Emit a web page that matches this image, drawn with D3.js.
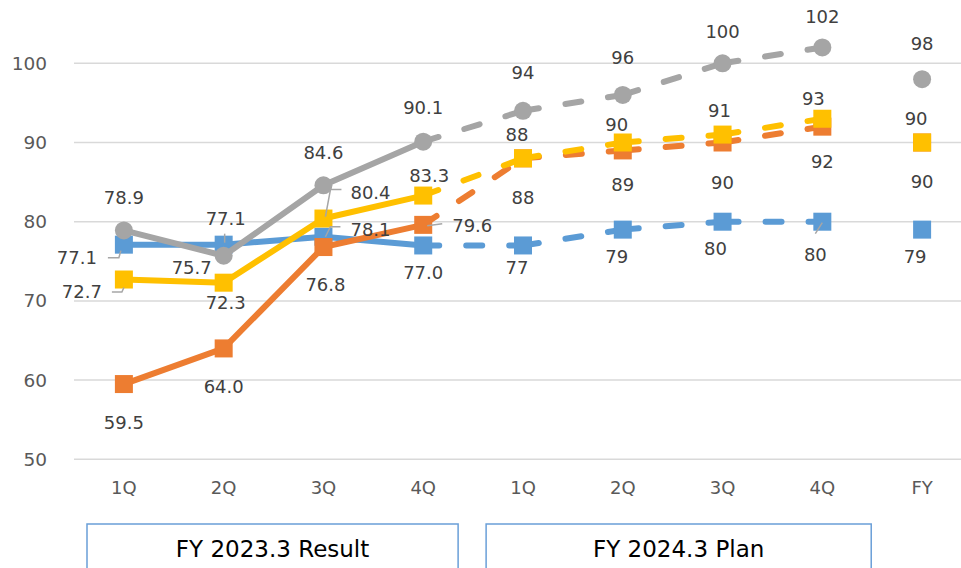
<!DOCTYPE html>
<html>
<head>
<meta charset="utf-8">
<script src="https://cdn.jsdelivr.net/npm/d3@7"></script>
<style>
  html, body { margin: 0; padding: 0; background: #fff; }
  svg { display: block; font-family: "DejaVu Sans", "Noto Sans", sans-serif; }
</style>
</head>
<body>
<svg id="chart" width="961" height="568"></svg>
<script>
// Quarter categories: four result quarters, four plan quarters, full year
const categories = ["1Q", "2Q", "3Q", "4Q", "1Q", "2Q", "3Q", "4Q", "FY"];

// Series values, one per category
const blueValues   = [77.1, 77.1, 78.1, 77.0, 77, 79, 80, 80, 79];
const orangeValues = [59.5, 64.0, 76.8, 79.6, 88, 89, 90, 92, 90];
const grayValues   = [78.9, 75.7, 84.6, 90.1, 94, 96, 100, 102, 98];
const yellowValues = [72.7, 72.3, 80.4, 83.3, 88, 90, 91, 93, 90];

const yTicks = [50, 60, 70, 80, 90, 100];

// Period groups shown as boxes under the axis
const periodNames = ["FY 2023.3 Result", "FY 2024.3 Plan"];
const periodStart = [0, 4];
const periodEnd   = [3, 7];

// Index of the last actual quarter; after it lines are dashed, FY is a lone marker
const lastResult = 3;
const lastPlan = 7;

// Label placement relative to each marker: [dx, dy, anchor, leader points]
const labelPlacement = {
  blue: [
    [-27, 13, "end", [[-16, 13], [-5, 13], [-3, 6]]],
    [2, -26, "middle", [[1, -11], [1, -2]]],
    [27, -7, "start", [[17, -10], [7, -10], [2, 0]]],
    [0, 27, "middle"],
    [-6, 22, "middle"],
    [-6, 27, "middle"],
    [-7, 27, "middle"],
    [-7, 33, "middle", [[-7, 12], [0, 1]]],
    [-7, 27, "middle"]
  ],
  orange: [
    [0, 39, "middle"],
    [0, 38, "middle"],
    [2, 38, "middle"],
    [29, 1, "start", [[19, -1], [4, 1]]],
    [0, 39, "middle"],
    [0, 34, "middle"],
    [0, 40, "middle"],
    [0, 35, "middle"],
    [0, 39, "middle"]
  ],
  gray: [
    [0, -33, "middle"],
    [-32, 12, "middle"],
    [0, -33, "middle"],
    [0, -34, "middle"],
    [0, -38, "middle"],
    [0, -37, "middle"],
    [0, -32, "middle"],
    [0, -31, "middle"],
    [0, -35, "middle"]
  ],
  yellow: [
    [-22, 12.5, "end", [[-12, 12.5], [-2, 12.5], [0, 8]]],
    [2, 20, "middle"],
    [27, -26, "start", [[18, -29], [7, -29], [2, -2]]],
    [6, -20, "middle"],
    [-6, -24, "middle"],
    [-6, -18, "middle"],
    [-3, -24, "middle"],
    [-9, -20, "middle"],
    [-6, -24, "middle"]
  ]
};

// Drawing order: later series sit on top
const series = [
  { key: "blue",   values: blueValues,   color: "#5B9BD5", marker: "square" },
  { key: "orange", values: orangeValues, color: "#ED7D31", marker: "square" },
  { key: "gray",   values: grayValues,   color: "#A5A5A5", marker: "circle" },
  { key: "yellow", values: yellowValues, color: "#FFC000", marker: "square" }
];

const svg = d3.select("#chart");
const width = 961;

const x = d3.scaleBand()
  .domain(d3.range(categories.length))
  .range([74, 972])
  .padding(0);
const cx = i => x(i) + x.bandwidth() / 2;

const y = d3.scaleLinear()
  .domain([50, 100])
  .range([459.3, 63.3]);

// Horizontal gridlines
svg.append("g")
  .selectAll("line")
  .data(yTicks)
  .join("line")
  .attr("x1", 74)
  .attr("x2", width)
  .attr("y1", d => y(d))
  .attr("y2", d => y(d))
  .attr("stroke", "#D9D9D9")
  .attr("stroke-width", 1.5);

// Y axis labels
const yAxis = d3.axisLeft(y).tickValues(yTicks).tickSize(0).tickPadding(0);
const yg = svg.append("g")
  .attr("transform", "translate(47,0)")
  .call(yAxis);
yg.select(".domain").remove();
yg.selectAll("text")
  .attr("fill", "#595959")
  .attr("font-size", 18.5)
  .attr("font-family", "'DejaVu Sans', sans-serif");

// X axis labels
const xAxis = d3.axisBottom(x).tickFormat(i => categories[i]).tickSize(0).tickPadding(0);
const xg = svg.append("g")
  .attr("transform", "translate(0,481)")
  .call(xAxis);
xg.select(".domain").remove();
xg.selectAll("text")
  .attr("fill", "#595959")
  .attr("font-size", 18)
  .attr("font-family", "'DejaVu Sans', sans-serif");

// Period boxes
const boxes = svg.append("g");
periodNames.forEach((name, k) => {
  const left = x(periodStart[k]) + 13;
  const right = x(periodEnd[k]) + x.bandwidth() - (k === 0 ? 15 : 1);
  boxes.append("rect")
    .attr("x", left)
    .attr("y", 524)
    .attr("width", right - left)
    .attr("height", 60)
    .attr("fill", "none")
    .attr("stroke", "#6A9FD8")
    .attr("stroke-width", 1.5);
  boxes.append("text")
    .attr("x", (left + right) / 2)
    .attr("y", 549)
    .attr("dy", "0.35em")
    .attr("text-anchor", "middle")
    .attr("fill", "#000")
    .attr("font-size", 23)
    .text(name);
});

const line = d3.line().x(d => cx(d.i)).y(d => y(d.v));
const marks = svg.append("g");

series.forEach(s => {
  const pts = s.values.map((v, i) => ({ i, v }));
  const g = marks.append("g");
  // Solid line through the result quarters
  g.append("path")
    .attr("d", line(pts.slice(0, lastResult + 1)))
    .attr("fill", "none")
    .attr("stroke", s.color)
    .attr("stroke-width", 6)
    .attr("stroke-linejoin", "round")
    .attr("stroke-linecap", "round");
  // Dashed segments into and through the plan quarters
  for (let i = lastResult; i < lastPlan; i++) {
    g.append("path")
      .attr("d", line([pts[i], pts[i + 1]]))
      .attr("fill", "none")
      .attr("stroke", s.color)
      .attr("stroke-width", 6)
      .attr("stroke-linecap", "round")
      .attr("stroke-dasharray", "16,27");
  }
  // Markers
  if (s.marker === "circle") {
    g.selectAll("circle")
      .data(pts)
      .join("circle")
      .attr("cx", d => cx(d.i))
      .attr("cy", d => y(d.v))
      .attr("r", 9)
      .attr("fill", s.color);
  } else {
    g.selectAll("rect")
      .data(pts)
      .join("rect")
      .attr("x", d => cx(d.i) - 9)
      .attr("y", d => y(d.v) - 9)
      .attr("width", 18)
      .attr("height", 18)
      .attr("fill", s.color);
  }
});

// Data labels with leader lines
const fmtResult = d3.format(".1f");
const fmtPlan = d3.format("d");
const labels = svg.append("g");
series.forEach(s => {
  s.values.forEach((v, i) => {
    const [dx, dy, anchor, leader] = labelPlacement[s.key][i];
    const px = cx(i), py = y(v);
    if (leader) {
      labels.append("polyline")
        .attr("points", leader.map(p => [px + p[0], py + p[1]].join(",")).join(" "))
        .attr("fill", "none")
        .attr("stroke", "#A6A6A6")
        .attr("stroke-width", 1.5);
    }
    labels.append("text")
      .attr("x", px + dx)
      .attr("y", py + dy)
      .attr("dy", "0.35em")
      .attr("text-anchor", anchor)
      .attr("fill", "#404040")
      .attr("font-size", 18)
      .text(i <= lastResult ? fmtResult(v) : fmtPlan(v));
  });
});
</script>
</body>
</html>
